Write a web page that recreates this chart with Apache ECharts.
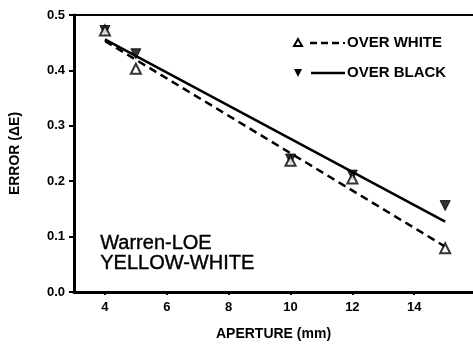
<!DOCTYPE html>
<html><head><meta charset="utf-8">
<script src="https://cdn.jsdelivr.net/npm/echarts@6/dist/echarts.min.js"></script>
<style>html,body{margin:0;padding:0;background:#fff}#c{width:473px;height:349px}</style>
</head><body><div id="c"></div>
<script>
const apertures = [4, 5, 10, 12, 15];
const overWhite = [0.472, 0.403, 0.237, 0.205, 0.079];
const overBlack = [0.472, 0.430, 0.240, 0.211, 0.156];
const fitX = [4, 15];
const fitWhite = [0.453, 0.082];
const fitBlack = [0.456, 0.127];
const xTicks = [4, 6, 8, 10, 12, 14];
const yTicks = [0, 0.1, 0.2, 0.3, 0.4, 0.5];

const pair = (xs, ys) => xs.map((x, i) => [x, ys[i]]);
const F = 'Liberation Sans, Arial, sans-serif';
const chart = echarts.init(document.getElementById('c'), null, {renderer: 'canvas'});
chart.setOption({
  animation: false,
  backgroundColor: '#fff',
  grid: {left: 71, top: 15, right: 0, bottom: 57, containLabel: false},
  xAxis: [{
    type: 'value', min: 3, max: 15.9,
    name: 'APERTURE (mm)', nameLocation: 'middle', nameGap: 35,
    nameTextStyle: {fontFamily: F, fontWeight: 'bold', fontSize: 14, color: '#000'},
    axisLine: {show: true, lineStyle: {color: '#000', width: 3}},
    axisTick: {show: true, customValues: xTicks, length: 3, lineStyle: {color: '#000', width: 2}},
    axisLabel: {customValues: xTicks, fontFamily: F, fontWeight: 'bold', fontSize: 13, color: '#000', margin: 9},
    splitLine: {show: false}
  }, {
    type: 'value', min: 3, max: 15.9, position: 'top',
    axisLine: {show: true, lineStyle: {color: '#000', width: 2}},
    axisTick: {show: false}, axisLabel: {show: false}, splitLine: {show: false}
  }],
  yAxis: {
    type: 'value', min: 0, max: 0.5, interval: 0.1,
    name: 'ERROR (ΔE)', nameLocation: 'middle', nameGap: 52, nameRotate: 90,
    nameTextStyle: {fontFamily: F, fontWeight: 'bold', fontSize: 14, color: '#000'},
    axisLine: {show: true, lineStyle: {color: '#000', width: 3}},
    axisTick: {show: true, length: 5, lineStyle: {color: '#000', width: 2}},
    axisLabel: {fontFamily: F, fontWeight: 'bold', fontSize: 13, color: '#000', margin: 9,
      formatter: v => v.toFixed(1)},
    splitLine: {show: false}
  },
  series: [
    {type: 'line', data: pair(fitX, fitWhite), symbol: 'none',
     lineStyle: {color: '#000', width: 2.5, type: [8, 5]}, z: 2},
    {type: 'line', data: pair(fitX, fitBlack), symbol: 'none',
     lineStyle: {color: '#000', width: 2.5, type: 'solid'}, z: 2},
    {type: 'scatter', data: pair(apertures, overWhite), symbol: 'triangle', symbolSize: 10,
     itemStyle: {color: '#fff', borderColor: '#000', borderWidth: 2}, z: 4},
    {type: 'scatter', data: pair(apertures, overBlack), symbol: 'triangle', symbolSize: 10, symbolRotate: 180,
     itemStyle: {color: '#000', borderColor: '#000', borderWidth: 1}, z: 3}
  ],
  graphic: [
    {type: 'text', left: 100, top: 233, style: {text: 'Warren-LOE\nYELLOW-WHITE', fontFamily: F, fontSize: 20, lineHeight: 20, fill: '#000', stroke: '#000', lineWidth: 0.4}},
    {type: 'polygon', shape: {points: [[298, 39], [302, 46], [294, 46]]}, style: {fill: '#fff', stroke: '#000', lineWidth: 2}},
    {type: 'line', shape: {x1: 310, y1: 43, x2: 340, y2: 43}, style: {stroke: '#000', lineWidth: 2.5, lineDash: [7, 4]}},
    {type: 'rect', shape: {x: 343, y: 42, width: 2, height: 2}, style: {fill: '#000'}},
    {type: 'text', left: 347, top: 35, style: {text: 'OVER WHITE', fontFamily: F, fontWeight: 'bold', fontSize: 15, fill: '#000'}},
    {type: 'polygon', shape: {points: [[294, 69], [302, 69], [298, 77]]}, style: {fill: '#000'}},
    {type: 'line', shape: {x1: 311, y1: 73, x2: 345, y2: 73}, style: {stroke: '#000', lineWidth: 2.5}},
    {type: 'text', left: 347, top: 65, style: {text: 'OVER BLACK', fontFamily: F, fontWeight: 'bold', fontSize: 15, fill: '#000'}}
  ]
});
</script></body></html>
